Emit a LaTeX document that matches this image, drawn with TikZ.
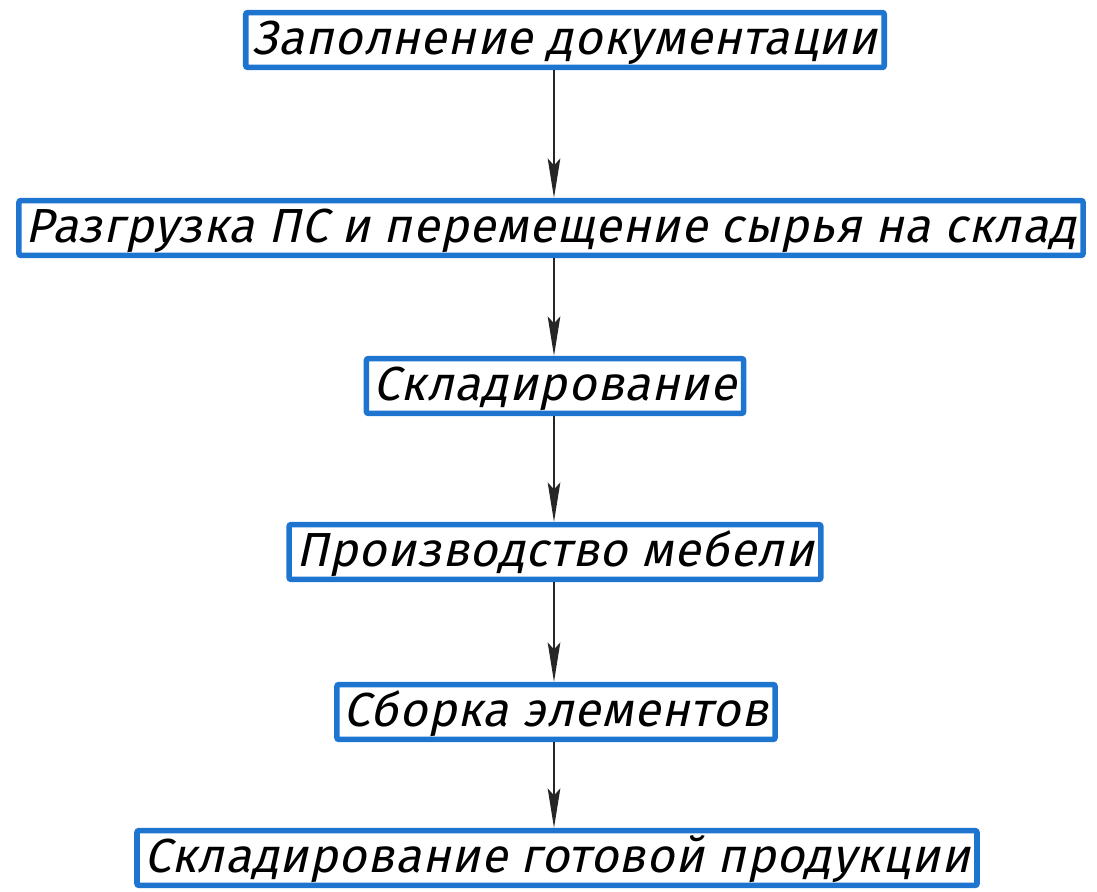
\documentclass[tikz,border=0pt]{standalone}
\usepackage{fontspec}
\usetikzlibrary{arrows.meta}
\newfontfamily\gost{Fira Sans}[FakeSlant=0.22, LetterSpace=2]
\definecolor{boxblue}{RGB}{30,117,208}

\begin{document}
\begin{tikzpicture}[x=0.025cm, y=-0.025cm,
    stage/.style={draw=boxblue, line width=4pt, rounded corners=1.5pt, fill=white,
        font=\gost\fontsize{34pt}{40pt}\selectfont,
        inner xsep=5pt, inner ysep=0pt, text height=30pt, text depth=9pt},
    flow/.style={draw=black!85, line width=0.9pt,
        -{Stealth[length=28pt, width=9pt, inset=5pt]}}]
\useasboundingbox (0,0) rectangle (1097,892);
% stages
\node[stage] (doc)    at (565,40)  {Заполнение документации};
\node[stage] (unload) at (551,228) {Разгрузка ПС и перемещение сырья на склад};
\node[stage] (store)  at (555,386) {Складирование};
\node[stage] (make)   at (555,552) {Производство мебели};
\node[stage] (build)  at (556,712) {Сборка элементов};
\node[stage] (ready)  at (557,858) {Складирование готовой продукции};
% arrows
\coordinate (axis) at (554,0);
\foreach \a/\b in {doc/unload, unload/store, store/make, make/build, build/ready} {
    \draw[flow] (\a.south -| axis) -- (\b.north -| axis);
}
\end{tikzpicture}
\end{document}
